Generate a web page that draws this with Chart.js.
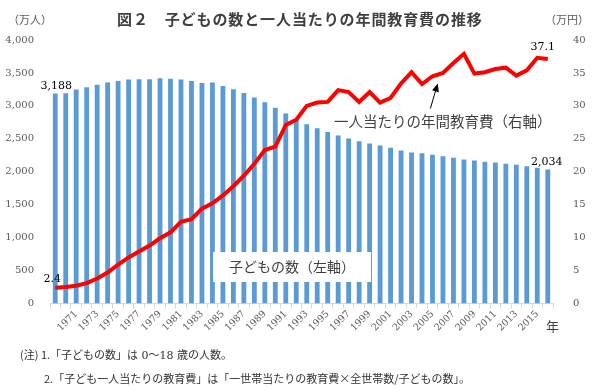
<!DOCTYPE html>
<html>
<head>
<meta charset="utf-8">
<title>図２ 子どもの数と一人当たりの年間教育費の推移</title>
<script src="https://cdn.jsdelivr.net/npm/chart.js@4.4.1/dist/chart.umd.min.js"></script>
<style>
  html, body { margin: 0; padding: 0; background: #fff; }
  #wrap { position: relative; width: 594px; height: 389px; overflow: hidden; font-family: "Noto Sans CJK JP", sans-serif; }
  #wrap canvas { position: absolute; left: 0; top: 0; }
  .txt { position: absolute; white-space: nowrap; color: #404040; line-height: 1; }
  .note { font-size: 11px; color: #333; font-family: "DejaVu Serif", "Noto Sans CJK JP", serif; }
  .note span { font-family: "Noto Sans CJK JP", sans-serif; }
</style>
</head>
<body>
<div id="wrap">
  <canvas id="grafik_anak" width="594" height="389"></canvas>
  <div class="txt" style="left:117px;top:11px;font-size:15px;font-weight:bold;letter-spacing:0.9px;color:#3f3f3f;">図２　子どもの数と一人当たりの年間教育費の推移</div>
  <div class="txt" style="left:8px;top:14px;font-size:11px;color:#595959;">（万人）</div>
  <div class="txt" style="left:545px;top:14px;font-size:11px;color:#595959;">（万円）</div>
  <div class="txt" style="left:546px;top:319px;font-size:13px;">年</div>
  <div class="txt note" style="left:20px;top:349px;"><span>(注) 1.「子どもの数」は</span> 0〜18 <span>歳の人数。</span></div>
  <div class="txt note" style="left:44px;top:373px;"><span>2.「子ども一人当たりの教育費」は「一世帯当たりの教育費×全世帯数/子どもの数」。</span></div>
</div>

<script>
'use strict';

// Data
// --------------------------------------------------------------------
const years = [
  1969, 1970, 1971, 1972, 1973, 1974, 1975, 1976, 1977, 1978, 1979, 1980,
  1981, 1982, 1983, 1984, 1985, 1986, 1987, 1988, 1989, 1990, 1991, 1992,
  1993, 1994, 1995, 1996, 1997, 1998, 1999, 2000, 2001, 2002, 2003, 2004,
  2005, 2006, 2007, 2008, 2009, 2010, 2011, 2012, 2013, 2014, 2015, 2016
];
// 子どもの数 (万人, left axis)
const jumlahAnak = [
  3188, 3192, 3249, 3284, 3319, 3355, 3379, 3401, 3405, 3406, 3420, 3410,
  3401, 3379, 3349, 3355, 3303, 3253, 3197, 3127, 3056, 2970, 2885, 2794,
  2722, 2662, 2605, 2551, 2505, 2464, 2429, 2399, 2363, 2322, 2293, 2282,
  2259, 2237, 2214, 2187, 2172, 2153, 2141, 2123, 2105, 2083, 2060, 2034
];
// 一人当たりの年間教育費 (万円, right axis)
const biayaPendidikan = [
  2.4, 2.5, 2.7, 3.1, 3.8, 4.7, 5.9, 7.0, 7.9, 8.8, 9.9, 10.8,
  12.4, 12.8, 14.4, 15.2, 16.4, 17.8, 19.4, 21.2, 23.3, 23.8, 27.1, 27.9,
  30.0, 30.5, 30.6, 32.4, 32.1, 30.6, 32.1, 30.5, 31.2, 33.4, 35.1, 33.3,
  34.5, 35.0, 36.5, 37.9, 34.9, 35.1, 35.6, 35.8, 34.6, 35.4, 37.3, 37.1
];
// tick labels shown on the x axis
const tahunLabel = [
  1971, 1973, 1975, 1977, 1979, 1981, 1983, 1985, 1987, 1989, 1991, 1993,
  1995, 1997, 1999, 2001, 2003, 2005, 2007, 2009, 2011, 2013, 2015
];
const tickKiri = [0, 500, 1000, 1500, 2000, 2500, 3000, 3500, 4000];
const tickKanan = [0, 5, 10, 15, 20, 25, 30, 35, 40];

// Color Variables
const blueColor = '#5B9BD5',
  redColor = '#FF0000',
  axisColor = '#595959',
  borderColor = '#D9D9D9',
  textColor = '#404040';

const numFont = '"DejaVu Serif", serif';
const jpFont = '"Noto Sans CJK JP", sans-serif';

// Labels, text box and arrow drawn on top of the datasets
// --------------------------------------------------------------------
const labelPlugin = {
  id: 'labelPlugin',
  afterDatasetsDraw(chart) {
    const ctx = chart.ctx,
      sx = chart.scales.x,
      sy = chart.scales.y,
      sy1 = chart.scales.y1,
      last = years.length - 1;

    ctx.save();
    ctx.fillStyle = '#000';
    ctx.font = '11px ' + numFont;
    ctx.textAlign = 'center';
    ctx.textBaseline = 'alphabetic';

    // bar values (first and last)
    ctx.fillText(jumlahAnak[0].toLocaleString('en-US'), sx.getPixelForValue(0) + 1, sy.getPixelForValue(jumlahAnak[0]) - 4);
    ctx.fillText(jumlahAnak[last].toLocaleString('en-US'), sx.getPixelForValue(last) - 1, sy.getPixelForValue(jumlahAnak[last]) - 5);
    // line values (first and last)
    ctx.fillText(biayaPendidikan[0].toFixed(1), sx.getPixelForValue(0) - 3, sy1.getPixelForValue(biayaPendidikan[0]) - 6);
    ctx.fillText(biayaPendidikan[last].toFixed(1), sx.getPixelForValue(last) - 5, sy1.getPixelForValue(biayaPendidikan[last]) - 9);

    // 子どもの数（左軸） box
    const bx = sx.getPixelForValue(22.6),
      by = sy.getPixelForValue(554);
    ctx.fillStyle = '#fff';
    ctx.fillRect(bx - 79, by - 15, 158, 30);
    ctx.fillStyle = textColor;
    ctx.font = '14px ' + jpFont;
    ctx.textBaseline = 'middle';
    ctx.fillText('子どもの数（左軸）', bx, by);

    // 一人当たりの年間教育費（右軸）
    ctx.textAlign = 'left';
    ctx.font = '14.5px ' + jpFont;
    ctx.fillText('一人当たりの年間教育費（右軸）', sx.getPixelForValue(26.6), sy1.getPixelForValue(27.7));

    // arrow
    const x0 = sx.getPixelForValue(35.8), y0 = sy1.getPixelForValue(29.6),
      x1 = sx.getPixelForValue(36.5), y1 = sy1.getPixelForValue(33.4),
      ang = Math.atan2(y1 - y0, x1 - x0);
    ctx.strokeStyle = '#000';
    ctx.fillStyle = '#000';
    ctx.lineWidth = 1;
    ctx.beginPath();
    ctx.moveTo(x0, y0);
    ctx.lineTo(x1 - 5 * Math.cos(ang), y1 - 5 * Math.sin(ang));
    ctx.stroke();
    ctx.beginPath();
    ctx.moveTo(x1, y1);
    ctx.lineTo(x1 - 8 * Math.cos(ang) + 3.5 * Math.sin(ang), y1 - 8 * Math.sin(ang) - 3.5 * Math.cos(ang));
    ctx.lineTo(x1 - 8 * Math.cos(ang) - 3.5 * Math.sin(ang), y1 - 8 * Math.sin(ang) + 3.5 * Math.cos(ang));
    ctx.closePath();
    ctx.fill();
    ctx.restore();
  }
};

// Bar + Line Chart
// --------------------------------------------------------------------
const grafikAnak = document.getElementById('grafik_anak');
if (grafikAnak) {
  const grafikAnakVar = new Chart(grafikAnak, {
    type: 'bar',
    data: {
      labels: years,
      datasets: [
        {
          type: 'line',
          data: biayaPendidikan,
          yAxisID: 'y1',
          borderColor: redColor,
          borderWidth: 4,
          pointRadius: 0,
          tension: 0,
          order: 0
        },
        {
          type: 'bar',
          data: jumlahAnak,
          yAxisID: 'y',
          backgroundColor: blueColor,
          borderWidth: 0,
          barPercentage: 0.46,
          categoryPercentage: 1,
          order: 1
        }
      ]
    },
    options: {
      responsive: false,
      animation: false,
      layout: {
        padding: { top: 40, left: 0, right: 0, bottom: 0 }
      },
      plugins: {
        legend: { display: false },
        tooltip: { enabled: false },
        title: { display: false }
      },
      scales: {
        x: {
          offset: true,
          grid: {
            display: true,
            drawOnChartArea: false,
            drawTicks: true,
            tickLength: 5,
            color: borderColor
          },
          border: { display: true, color: borderColor, width: 1 },
          ticks: {
            autoSkip: false,
            minRotation: 45,
            maxRotation: 45,
            padding: 0,
            color: axisColor,
            font: { family: numFont, size: 9.5 },
            callback: function (value) {
              const yr = years[value];
              return tahunLabel.includes(yr) ? String(yr) : '';
            }
          },
          afterFit: function (scale) {
            scale.height = 85.5;
          }
        },
        y: {
          position: 'left',
          min: tickKiri[0],
          max: tickKiri[tickKiri.length - 1],
          grid: { display: false },
          border: { display: false },
          afterBuildTicks: function (scale) {
            scale.ticks = tickKiri.map(v => ({ value: v }));
          },
          ticks: {
            padding: 8,
            color: axisColor,
            font: { family: numFont, size: 10 },
            callback: v => v.toLocaleString('en-US')
          },
          afterFit: function (scale) {
            scale.width = 50;
          }
        },
        y1: {
          position: 'right',
          min: tickKanan[0],
          max: tickKanan[tickKanan.length - 1],
          grid: { display: false },
          border: { display: false },
          afterBuildTicks: function (scale) {
            scale.ticks = tickKanan.map(v => ({ value: v }));
          },
          ticks: {
            padding: 12,
            color: axisColor,
            font: { family: numFont, size: 10 },
            callback: v => String(v)
          },
          afterFit: function (scale) {
            scale.width = 41;
          }
        }
      }
    },
    plugins: [labelPlugin]
  });
}
</script>
</body>
</html>
